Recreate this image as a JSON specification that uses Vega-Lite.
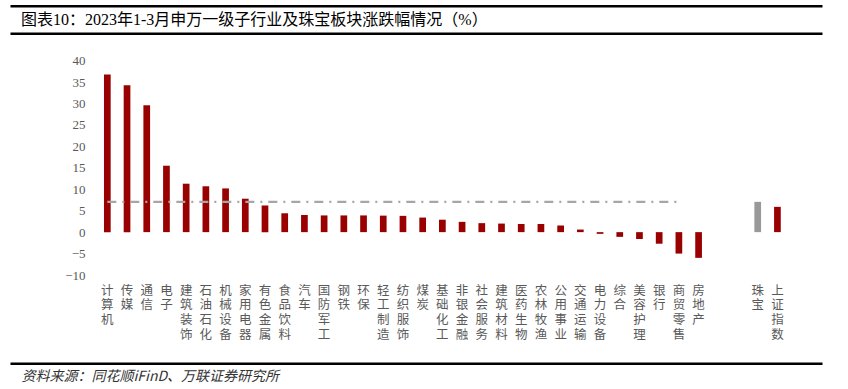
{
  "$schema": "https://vega.github.io/schema/vega-lite/v6.json",
  "width": 812,
  "height": 357.6,
  "autosize": "none",
  "padding": {"left": 10, "top": 5.7, "right": 26, "bottom": 25.7},
  "background": "white",
  "config": {
    "view": {"stroke": null},
    "axisY": {"labelOverlap": false, "labelFont": "Liberation Serif", "labelFontSize": 13, "labelColor": "#595959", "labelSeparation": 0}
  },
  "title": {
    "text": "图表10：2023年1-3月申万一级子行业及珠宝板块涨跌幅情况（%）",
    "anchor": "start",
    "frame": "group",
    "dx": 11,
    "offset": -22.5,
    "font": "Liberation Serif, Noto Sans CJK SC",
    "fontSize": 16,
    "fontWeight": "normal",
    "color": "#000000"
  },
  "layer": [
    {
      "data": {"values": [
        {"name": "计算机", "v": 36.8},
        {"name": "传媒", "v": 34.3},
        {"name": "通信", "v": 29.6},
        {"name": "电子", "v": 15.5},
        {"name": "建筑装饰", "v": 11.3},
        {"name": "石油石化", "v": 10.7},
        {"name": "机械设备", "v": 10.2},
        {"name": "家用电器", "v": 7.8},
        {"name": "有色金属", "v": 6.2},
        {"name": "食品饮料", "v": 4.4},
        {"name": "汽车", "v": 4.0},
        {"name": "国防军工", "v": 3.9},
        {"name": "钢铁", "v": 3.9},
        {"name": "环保", "v": 3.9},
        {"name": "轻工制造", "v": 3.85},
        {"name": "纺织服饰", "v": 3.8},
        {"name": "煤炭", "v": 3.4},
        {"name": "基础化工", "v": 2.9},
        {"name": "非银金融", "v": 2.4},
        {"name": "社会服务", "v": 2.1},
        {"name": "建筑材料", "v": 2.0},
        {"name": "医药生物", "v": 1.9},
        {"name": "农林牧渔", "v": 1.9},
        {"name": "公用事业", "v": 1.55},
        {"name": "交通运输", "v": 0.6},
        {"name": "电力设备", "v": -0.4},
        {"name": "综合", "v": -1.1},
        {"name": "美容护理", "v": -1.6},
        {"name": "银行", "v": -2.7},
        {"name": "商贸零售", "v": -5.0},
        {"name": "房地产", "v": -6.0},
        {"name": "上证指数", "v": 5.9}
      ]},
      "mark": {"type": "bar", "color": "#990000"},
      "encoding": {
        "x": {
          "field": "name",
          "type": "nominal",
          "sort": null,
          "scale": {"type": "band", "domain": ["blank0","blank1","blank2","blank3","计算机","传媒","通信","电子","建筑装饰","石油石化","机械设备","家用电器","有色金属","食品饮料","汽车","国防军工","钢铁","环保","轻工制造","纺织服饰","煤炭","基础化工","非银金融","社会服务","建筑材料","医药生物","农林牧渔","公用事业","交通运输","电力设备","综合","美容护理","银行","商贸零售","房地产","blank4","blank5","珠宝","上证指数","blank6"], "paddingInner": 0.66, "paddingOuter": 0.93, "align": 0.413},
          "axis": {
            "orient": "bottom",
            "domain": true,
            "domainColor": "#000000",
            "domainWidth": 2.5,
            "ticks": false,
            "tickSize": 0,
            "grid": false,
            "labelAngle": 0,
            "labelAlign": "center",
            "labelBaseline": "top",
            "labelPadding": -79,
            "labelOverlap": false,
            "labelBound": false,
            "labelFlush": false,
            "labelFont": "Noto Sans CJK SC",
            "labelFontSize": 12.5,
            "labelColor": "#595959",
            "labelLineHeight": 14.6,
            "labelExpr": "indexof(datum.label, 'blank') == 0 ? '' : split(datum.label, '')",
            "title": "资料来源：同花顺iFinD、万联证券研究所",
            "titleX": 11,
            "titleY": 12.7,
            "titleAlign": "left",
            "titleAnchor": "start",
            "titleBaseline": "middle",
            "titleFont": "Noto Sans CJK SC",
            "titleFontSize": 14,
            "titleFontStyle": "italic",
            "titleFontWeight": "normal",
            "titleColor": "#333333"
          }
        },
        "y": {
          "field": "v",
          "type": "quantitative",
          "scale": {"domain": [-10, 40], "range": [269.3, 55], "nice": false, "zero": false},
          "axis": {
            "orient": "left",
            "offset": -77,
            "values": [-10, -5, 0, 5, 10, 15, 20, 25, 30, 35, 40],
            "domain": false,
            "ticks": false,
            "tickSize": 0,
            "grid": false,
            "labelOverlap": false,
            "labelSeparation": 0,
            "labelPadding": 2,
            "labelFont": "Liberation Serif",
            "labelFontSize": 13,
            "labelColor": "#595959",
            "title": null
          }
        }
      }
    },
    {
      "data": {"values": [{"name": "珠宝", "v": 7.07}]},
      "mark": {"type": "bar", "color": "#999999"},
      "encoding": {
        "x": {
          "field": "name",
          "type": "nominal",
          "sort": null,
          "scale": {"type": "band", "domain": ["blank0","blank1","blank2","blank3","计算机","传媒","通信","电子","建筑装饰","石油石化","机械设备","家用电器","有色金属","食品饮料","汽车","国防军工","钢铁","环保","轻工制造","纺织服饰","煤炭","基础化工","非银金融","社会服务","建筑材料","医药生物","农林牧渔","公用事业","交通运输","电力设备","综合","美容护理","银行","商贸零售","房地产","blank4","blank5","珠宝","上证指数","blank6"], "paddingInner": 0.66, "paddingOuter": 0.93, "align": 0.413},
          "axis": {
            "orient": "top",
            "domain": true,
            "domainColor": "#000000",
            "domainWidth": 2.5,
            "ticks": false,
            "labels": false,
            "grid": false,
            "title": null
          }
        },
        "y": {
          "field": "v",
          "type": "quantitative",
          "scale": {"domain": [-10, 40], "range": [269.3, 55], "nice": false, "zero": false},
          "axis": {
            "orient": "left",
            "offset": -77,
            "values": [-10, -5, 0, 5, 10, 15, 20, 25, 30, 35, 40],
            "domain": false,
            "ticks": false,
            "tickSize": 0,
            "grid": false,
            "labelOverlap": false,
            "labelSeparation": 0,
            "labelPadding": 2,
            "title": null
          }
        }
      }
    },
    {
      "data": {"values": [{"from": "计算机", "to": "商贸零售", "v": 7.07}]},
      "mark": {"type": "rule", "color": "#a6a6a6", "strokeWidth": 2.3, "strokeDash": [9, 6, 2, 6]},
      "encoding": {
        "x": {
          "field": "from",
          "type": "nominal",
          "sort": null,
          "scale": {"type": "band", "domain": ["blank0","blank1","blank2","blank3","计算机","传媒","通信","电子","建筑装饰","石油石化","机械设备","家用电器","有色金属","食品饮料","汽车","国防军工","钢铁","环保","轻工制造","纺织服饰","煤炭","基础化工","非银金融","社会服务","建筑材料","医药生物","农林牧渔","公用事业","交通运输","电力设备","综合","美容护理","银行","商贸零售","房地产","blank4","blank5","珠宝","上证指数","blank6"], "paddingInner": 0.66, "paddingOuter": 0.93, "align": 0.413},
          "axis": {
            "orient": "top",
            "offset": -27.6,
            "domain": true,
            "domainColor": "#000000",
            "domainWidth": 2.5,
            "ticks": false,
            "labels": false,
            "grid": false,
            "title": null
          }
        },
        "x2": {"field": "to"},
        "y": {
          "field": "v",
          "type": "quantitative",
          "scale": {"domain": [-10, 40], "range": [269.3, 55], "nice": false, "zero": false},
          "axis": {
            "orient": "left",
            "offset": -77,
            "values": [-10, -5, 0, 5, 10, 15, 20, 25, 30, 35, 40],
            "domain": false,
            "ticks": false,
            "tickSize": 0,
            "grid": false,
            "labelOverlap": false,
            "labelSeparation": 0,
            "labelPadding": 2,
            "title": null
          }
        }
      }
    }
  ],
  "resolve": {"axis": {"x": "independent"}}
}
